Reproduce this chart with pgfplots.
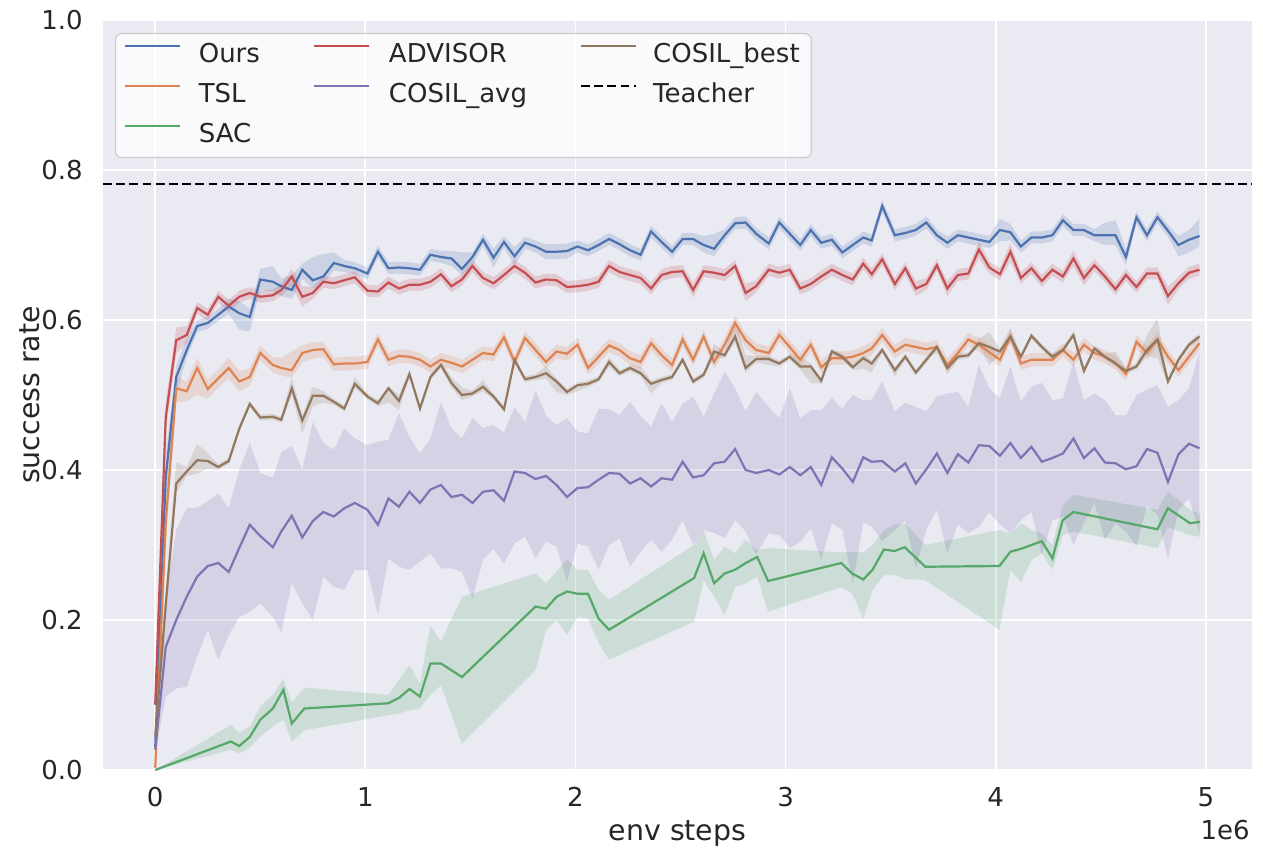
\documentclass[border=0pt]{standalone}
\usepackage{fontspec}
\setmainfont{DejaVu Sans}
\usepackage{pgfplots}
\pgfplotsset{compat=1.18}
\usepackage{pgfplotstable}
\usepgfplotslibrary{fillbetween}

\definecolor{cBlue}{HTML}{4C72B0}
\definecolor{cOrange}{HTML}{DD8452}
\definecolor{cGreen}{HTML}{55A868}
\definecolor{cRed}{HTML}{C44E52}
\definecolor{cPurple}{HTML}{8172B3}
\definecolor{cBrown}{HTML}{937860}
\definecolor{bg}{HTML}{EAEAF2}
\definecolor{txt}{HTML}{262626}

\pgfplotstableread{
x y lo hi
0 0.030 0.025 0.035
0.05 0.390 0.360 0.420
0.10 0.524 0.500 0.540
0.15 0.560 0.550 0.575
0.20 0.592 0.584 0.600
0.25 0.596 0.588 0.604
0.30 0.607 0.599 0.615
0.35 0.618 0.608 0.628
0.40 0.609 0.587 0.625
0.45 0.604 0.585 0.615
0.50 0.654 0.640 0.668
0.56 0.651 0.638 0.672
0.60 0.645 0.632 0.655
0.65 0.640 0.628 0.660
0.70 0.667 0.655 0.675
0.75 0.653 0.642 0.684
0.80 0.658 0.648 0.688
0.85 0.676 0.666 0.690
0.90 0.672 0.664 0.680
0.95 0.669 0.661 0.677
1.01 0.662 0.654 0.670
1.06 0.691 0.683 0.699
1.11 0.669 0.661 0.677
1.16 0.670 0.662 0.678
1.21 0.669 0.661 0.677
1.26 0.667 0.659 0.675
1.31 0.687 0.679 0.695
1.36 0.684 0.676 0.692
1.41 0.682 0.672 0.692
1.46 0.668 0.660 0.690
1.51 0.684 0.672 0.690
1.56 0.707 0.699 0.715
1.61 0.683 0.670 0.695
1.66 0.704 0.696 0.712
1.71 0.685 0.672 0.697
1.76 0.703 0.695 0.711
1.81 0.698 0.690 0.706
1.86 0.691 0.681 0.701
1.91 0.691 0.681 0.701
1.96 0.692 0.682 0.702
2.01 0.698 0.690 0.706
2.06 0.693 0.685 0.701
2.11 0.700 0.692 0.708
2.16 0.708 0.700 0.716
2.21 0.701 0.693 0.709
2.26 0.693 0.685 0.701
2.31 0.687 0.679 0.695
2.36 0.718 0.710 0.726
2.41 0.704 0.696 0.712
2.46 0.691 0.683 0.699
2.51 0.708 0.700 0.716
2.56 0.708 0.700 0.716
2.61 0.700 0.690 0.712
2.66 0.695 0.685 0.715
2.71 0.713 0.705 0.721
2.76 0.729 0.721 0.737
2.81 0.730 0.722 0.738
2.86 0.715 0.707 0.723
2.92 0.702 0.694 0.710
2.97 0.730 0.722 0.738
3.02 0.715 0.707 0.723
3.07 0.700 0.692 0.708
3.12 0.720 0.712 0.728
3.17 0.703 0.695 0.711
3.22 0.707 0.699 0.715
3.27 0.690 0.682 0.698
3.32 0.700 0.692 0.708
3.37 0.710 0.702 0.718
3.41 0.706 0.698 0.714
3.46 0.752 0.744 0.760
3.52 0.713 0.705 0.721
3.57 0.716 0.708 0.724
3.62 0.720 0.712 0.728
3.67 0.730 0.722 0.738
3.72 0.713 0.705 0.721
3.77 0.703 0.695 0.711
3.82 0.713 0.705 0.721
3.87 0.710 0.702 0.718
3.92 0.707 0.699 0.715
3.97 0.704 0.696 0.712
4.02 0.720 0.705 0.735
4.07 0.717 0.706 0.728
4.12 0.698 0.690 0.706
4.17 0.710 0.702 0.718
4.22 0.710 0.702 0.718
4.27 0.713 0.705 0.721
4.32 0.733 0.725 0.741
4.37 0.720 0.712 0.728
4.42 0.720 0.712 0.728
4.47 0.713 0.705 0.721
4.52 0.713 0.700 0.730
4.57 0.713 0.700 0.733
4.62 0.684 0.673 0.695
4.67 0.737 0.729 0.745
4.72 0.713 0.705 0.721
4.77 0.737 0.729 0.745
4.82 0.719 0.711 0.727
4.87 0.700 0.685 0.712
4.92 0.707 0.690 0.720
4.97 0.712 0.698 0.735
}\tOurs

\pgfplotstableread{
x y lo hi
0 0.087 0.080 0.094
0.05 0.470 0.450 0.490
0.10 0.573 0.555 0.590
0.15 0.580 0.570 0.592
0.20 0.616 0.608 0.624
0.25 0.607 0.599 0.615
0.30 0.631 0.623 0.639
0.35 0.619 0.611 0.627
0.40 0.631 0.623 0.639
0.45 0.636 0.628 0.644
0.50 0.631 0.623 0.639
0.56 0.633 0.625 0.641
0.60 0.640 0.632 0.648
0.65 0.658 0.645 0.668
0.70 0.631 0.618 0.645
0.75 0.636 0.628 0.644
0.80 0.651 0.643 0.659
0.85 0.649 0.641 0.657
0.90 0.653 0.645 0.661
0.95 0.657 0.649 0.665
1.01 0.639 0.631 0.647
1.06 0.638 0.630 0.646
1.11 0.650 0.642 0.658
1.16 0.642 0.634 0.650
1.21 0.647 0.639 0.655
1.26 0.647 0.639 0.655
1.31 0.651 0.643 0.659
1.36 0.661 0.653 0.669
1.41 0.645 0.637 0.653
1.46 0.654 0.646 0.662
1.51 0.672 0.664 0.680
1.56 0.656 0.648 0.664
1.61 0.649 0.641 0.657
1.66 0.660 0.652 0.668
1.71 0.672 0.664 0.680
1.76 0.663 0.655 0.671
1.81 0.650 0.642 0.658
1.86 0.654 0.646 0.662
1.91 0.653 0.645 0.661
1.96 0.644 0.636 0.652
2.01 0.645 0.637 0.653
2.06 0.647 0.639 0.655
2.11 0.651 0.643 0.659
2.16 0.672 0.664 0.680
2.21 0.664 0.656 0.672
2.26 0.660 0.652 0.668
2.31 0.656 0.648 0.664
2.36 0.642 0.634 0.650
2.41 0.660 0.652 0.668
2.46 0.664 0.656 0.672
2.51 0.665 0.657 0.673
2.56 0.640 0.630 0.650
2.61 0.665 0.657 0.673
2.66 0.663 0.655 0.671
2.71 0.660 0.652 0.668
2.76 0.672 0.664 0.680
2.81 0.636 0.625 0.648
2.86 0.645 0.637 0.653
2.92 0.667 0.659 0.675
2.97 0.663 0.655 0.671
3.02 0.667 0.659 0.675
3.07 0.642 0.634 0.650
3.12 0.648 0.640 0.656
3.17 0.658 0.650 0.666
3.22 0.667 0.659 0.675
3.27 0.660 0.652 0.668
3.32 0.654 0.646 0.662
3.37 0.675 0.667 0.683
3.41 0.661 0.653 0.669
3.46 0.681 0.673 0.689
3.52 0.648 0.640 0.656
3.57 0.669 0.661 0.677
3.62 0.642 0.632 0.652
3.67 0.648 0.640 0.656
3.72 0.673 0.665 0.681
3.77 0.642 0.632 0.652
3.82 0.660 0.652 0.668
3.87 0.662 0.654 0.670
3.92 0.694 0.682 0.705
3.97 0.670 0.662 0.678
4.02 0.661 0.653 0.669
4.07 0.691 0.678 0.703
4.12 0.656 0.648 0.664
4.17 0.669 0.661 0.677
4.22 0.652 0.644 0.660
4.27 0.667 0.659 0.675
4.32 0.658 0.650 0.666
4.37 0.682 0.672 0.692
4.42 0.656 0.646 0.666
4.47 0.673 0.665 0.681
4.52 0.658 0.650 0.666
4.57 0.641 0.633 0.649
4.62 0.660 0.652 0.668
4.67 0.644 0.636 0.652
4.72 0.662 0.654 0.670
4.77 0.662 0.654 0.670
4.82 0.632 0.620 0.645
4.87 0.649 0.641 0.657
4.92 0.663 0.655 0.671
4.97 0.667 0.659 0.675
}\tAdvisor

\pgfplotstableread{
x y lo hi
0 0.003 0.000 0.006
0.05 0.330 0.300 0.360
0.10 0.509 0.490 0.525
0.15 0.505 0.492 0.518
0.20 0.536 0.500 0.550
0.25 0.508 0.495 0.520
0.30 0.522 0.510 0.534
0.35 0.536 0.522 0.550
0.40 0.518 0.505 0.532
0.45 0.524 0.512 0.536
0.50 0.556 0.546 0.566
0.56 0.540 0.530 0.550
0.60 0.536 0.526 0.550
0.65 0.533 0.523 0.558
0.70 0.556 0.544 0.566
0.75 0.560 0.548 0.570
0.80 0.561 0.551 0.571
0.85 0.541 0.532 0.550
0.90 0.542 0.533 0.551
0.95 0.542 0.533 0.551
1.01 0.544 0.535 0.553
1.06 0.574 0.565 0.583
1.11 0.547 0.538 0.556
1.16 0.552 0.543 0.561
1.21 0.551 0.542 0.560
1.26 0.547 0.538 0.556
1.31 0.538 0.529 0.547
1.36 0.547 0.538 0.556
1.41 0.543 0.534 0.552
1.46 0.538 0.529 0.547
1.51 0.547 0.538 0.556
1.56 0.556 0.547 0.565
1.61 0.554 0.545 0.563
1.66 0.577 0.568 0.586
1.71 0.544 0.535 0.553
1.76 0.576 0.567 0.585
1.81 0.560 0.551 0.569
1.86 0.544 0.535 0.553
1.91 0.558 0.549 0.567
1.96 0.555 0.546 0.564
2.01 0.567 0.558 0.576
2.06 0.536 0.527 0.545
2.11 0.551 0.542 0.560
2.16 0.566 0.557 0.575
2.21 0.560 0.551 0.569
2.26 0.549 0.540 0.558
2.31 0.544 0.535 0.553
2.36 0.569 0.560 0.578
2.41 0.553 0.544 0.562
2.46 0.540 0.531 0.549
2.51 0.574 0.565 0.583
2.56 0.547 0.538 0.556
2.61 0.578 0.569 0.587
2.66 0.544 0.535 0.553
2.71 0.567 0.558 0.576
2.76 0.596 0.585 0.606
2.81 0.573 0.564 0.582
2.86 0.560 0.551 0.569
2.92 0.556 0.547 0.565
2.97 0.580 0.571 0.589
3.02 0.564 0.555 0.573
3.07 0.547 0.538 0.556
3.12 0.567 0.558 0.576
3.17 0.537 0.528 0.546
3.22 0.549 0.540 0.558
3.27 0.549 0.540 0.558
3.32 0.551 0.542 0.560
3.37 0.556 0.547 0.565
3.41 0.562 0.553 0.571
3.46 0.580 0.571 0.589
3.52 0.558 0.549 0.567
3.57 0.567 0.558 0.576
3.62 0.564 0.555 0.573
3.67 0.561 0.552 0.570
3.72 0.564 0.555 0.573
3.77 0.540 0.531 0.549
3.82 0.556 0.547 0.565
3.87 0.574 0.565 0.583
3.92 0.567 0.558 0.576
3.97 0.557 0.548 0.566
4.02 0.547 0.538 0.556
4.07 0.578 0.569 0.587
4.12 0.542 0.533 0.551
4.17 0.547 0.538 0.556
4.22 0.547 0.538 0.556
4.27 0.547 0.538 0.556
4.32 0.560 0.551 0.569
4.37 0.547 0.538 0.556
4.42 0.567 0.558 0.576
4.47 0.556 0.547 0.565
4.52 0.551 0.542 0.560
4.57 0.543 0.534 0.552
4.62 0.528 0.519 0.537
4.67 0.571 0.562 0.580
4.72 0.556 0.547 0.565
4.77 0.574 0.565 0.583
4.82 0.551 0.542 0.560
4.87 0.533 0.524 0.542
4.92 0.551 0.542 0.560
4.97 0.569 0.560 0.578
}\tTSL

\pgfplotstableread{
x y lo hi
0 0.044 0.040 0.048
0.05 0.220 0.200 0.240
0.10 0.382 0.370 0.410
0.15 0.398 0.392 0.404
0.20 0.413 0.395 0.435
0.25 0.412 0.402 0.422
0.30 0.404 0.400 0.408
0.35 0.412 0.408 0.416
0.40 0.455 0.451 0.459
0.45 0.488 0.484 0.492
0.50 0.470 0.466 0.474
0.56 0.471 0.467 0.475
0.60 0.467 0.463 0.471
0.65 0.509 0.500 0.524
0.70 0.466 0.449 0.472
0.75 0.499 0.485 0.511
0.80 0.499 0.490 0.505
0.85 0.491 0.487 0.495
0.90 0.482 0.478 0.486
0.95 0.515 0.510 0.524
1.01 0.498 0.494 0.502
1.06 0.489 0.485 0.493
1.11 0.509 0.490 0.512
1.16 0.492 0.480 0.500
1.21 0.528 0.524 0.532
1.26 0.482 0.478 0.486
1.31 0.524 0.520 0.528
1.36 0.540 0.536 0.544
1.41 0.516 0.510 0.524
1.46 0.500 0.493 0.510
1.51 0.502 0.498 0.506
1.56 0.511 0.505 0.520
1.61 0.498 0.494 0.502
1.66 0.481 0.477 0.485
1.71 0.547 0.543 0.551
1.76 0.521 0.517 0.525
1.81 0.524 0.520 0.528
1.86 0.529 0.522 0.538
1.91 0.518 0.504 0.522
1.96 0.504 0.500 0.508
2.01 0.513 0.505 0.517
2.06 0.515 0.511 0.519
2.11 0.521 0.517 0.525
2.16 0.544 0.538 0.550
2.21 0.529 0.525 0.533
2.26 0.536 0.532 0.540
2.31 0.529 0.525 0.538
2.36 0.515 0.502 0.519
2.41 0.520 0.516 0.524
2.46 0.524 0.520 0.528
2.51 0.547 0.543 0.551
2.56 0.518 0.514 0.522
2.61 0.527 0.523 0.531
2.66 0.558 0.550 0.568
2.71 0.553 0.549 0.557
2.76 0.578 0.570 0.602
2.81 0.536 0.530 0.553
2.86 0.548 0.544 0.552
2.92 0.548 0.540 0.552
2.97 0.542 0.538 0.546
3.02 0.551 0.547 0.555
3.07 0.538 0.534 0.551
3.12 0.538 0.516 0.542
3.17 0.519 0.515 0.523
3.22 0.558 0.554 0.562
3.27 0.551 0.547 0.555
3.32 0.537 0.533 0.541
3.37 0.549 0.535 0.553
3.41 0.542 0.530 0.546
3.46 0.560 0.556 0.564
3.52 0.533 0.525 0.537
3.57 0.551 0.547 0.555
3.62 0.530 0.526 0.534
3.67 0.547 0.543 0.551
3.72 0.564 0.560 0.568
3.77 0.536 0.528 0.540
3.82 0.551 0.547 0.555
3.87 0.553 0.549 0.557
3.92 0.569 0.565 0.575
3.97 0.564 0.540 0.584
4.02 0.558 0.554 0.562
4.07 0.578 0.570 0.590
4.12 0.551 0.547 0.555
4.17 0.579 0.575 0.583
4.22 0.564 0.560 0.568
4.27 0.551 0.547 0.555
4.32 0.560 0.556 0.564
4.37 0.580 0.576 0.584
4.42 0.532 0.528 0.536
4.47 0.562 0.558 0.566
4.52 0.551 0.547 0.555
4.57 0.542 0.538 0.558
4.62 0.532 0.528 0.536
4.67 0.538 0.534 0.542
4.72 0.560 0.552 0.580
4.77 0.574 0.549 0.602
4.82 0.518 0.514 0.522
4.87 0.547 0.543 0.551
4.92 0.567 0.563 0.571
4.97 0.578 0.574 0.582
}\tBest

\pgfplotstableread{
x y lo hi
0 0.027 0.020 0.035
0.05 0.164 0.098 0.230
0.10 0.200 0.109 0.320
0.15 0.231 0.111 0.349
0.20 0.258 0.151 0.350
0.25 0.272 0.187 0.358
0.30 0.276 0.147 0.369
0.35 0.264 0.180 0.349
0.40 0.296 0.204 0.400
0.45 0.327 0.211 0.436
0.50 0.312 0.222 0.396
0.56 0.297 0.204 0.390
0.60 0.318 0.184 0.424
0.65 0.339 0.249 0.432
0.70 0.310 0.222 0.400
0.75 0.332 0.200 0.464
0.80 0.344 0.258 0.436
0.85 0.338 0.244 0.427
0.90 0.349 0.240 0.456
0.95 0.356 0.267 0.442
1.01 0.347 0.267 0.433
1.06 0.327 0.207 0.438
1.11 0.362 0.282 0.440
1.16 0.351 0.271 0.476
1.21 0.371 0.267 0.444
1.26 0.356 0.278 0.422
1.31 0.374 0.289 0.442
1.36 0.380 0.269 0.491
1.41 0.364 0.269 0.456
1.46 0.367 0.264 0.442
1.51 0.356 0.229 0.469
1.56 0.371 0.280 0.456
1.61 0.373 0.295 0.460
1.66 0.359 0.275 0.450
1.71 0.398 0.302 0.484
1.76 0.396 0.311 0.464
1.81 0.388 0.282 0.506
1.86 0.392 0.304 0.473
1.91 0.380 0.298 0.460
1.96 0.364 0.251 0.469
2.01 0.376 0.302 0.451
2.06 0.377 0.298 0.449
2.11 0.387 0.267 0.482
2.16 0.396 0.300 0.481
2.21 0.395 0.309 0.473
2.26 0.382 0.271 0.491
2.31 0.389 0.291 0.472
2.36 0.378 0.307 0.458
2.41 0.389 0.291 0.489
2.46 0.387 0.307 0.464
2.51 0.411 0.333 0.488
2.56 0.390 0.300 0.498
2.61 0.393 0.320 0.471
2.66 0.409 0.316 0.502
2.71 0.411 0.309 0.531
2.76 0.428 0.333 0.509
2.81 0.400 0.318 0.478
2.86 0.396 0.287 0.504
2.92 0.400 0.316 0.484
2.97 0.394 0.313 0.469
3.02 0.404 0.296 0.509
3.07 0.393 0.304 0.469
3.12 0.404 0.322 0.480
3.17 0.380 0.280 0.480
3.22 0.417 0.329 0.496
3.27 0.402 0.320 0.482
3.32 0.384 0.249 0.500
3.37 0.417 0.330 0.493
3.41 0.411 0.325 0.494
3.46 0.412 0.305 0.518
3.52 0.398 0.320 0.478
3.57 0.409 0.333 0.490
3.62 0.382 0.269 0.484
3.67 0.401 0.320 0.478
3.72 0.422 0.347 0.498
3.77 0.396 0.289 0.502
3.82 0.421 0.327 0.504
3.87 0.410 0.316 0.484
3.92 0.433 0.324 0.540
3.97 0.432 0.344 0.509
4.02 0.419 0.327 0.496
4.07 0.436 0.316 0.538
4.12 0.416 0.333 0.491
4.17 0.431 0.344 0.511
4.22 0.411 0.287 0.516
4.27 0.416 0.333 0.493
4.32 0.422 0.338 0.496
4.37 0.442 0.300 0.544
4.42 0.416 0.329 0.493
4.47 0.429 0.356 0.502
4.52 0.410 0.307 0.493
4.57 0.409 0.329 0.473
4.62 0.401 0.318 0.473
4.67 0.405 0.298 0.500
4.72 0.428 0.353 0.507
4.77 0.423 0.340 0.513
4.82 0.384 0.282 0.484
4.87 0.421 0.347 0.493
4.92 0.435 0.362 0.509
4.97 0.429 0.316 0.558
}\tAvg

\pgfplotstableread{
x y lo hi
0 0.000 0.000 0.000
0.36 0.038 0.027 0.060
0.40 0.032 0.022 0.050
0.45 0.044 0.030 0.058
0.50 0.067 0.045 0.085
0.56 0.082 0.058 0.100
0.61 0.107 0.067 0.122
0.65 0.062 0.038 0.090
0.71 0.082 0.053 0.110
1.11 0.089 0.073 0.100
1.16 0.096 0.075 0.120
1.21 0.108 0.080 0.140
1.26 0.098 0.082 0.115
1.31 0.142 0.100 0.193
1.36 0.142 0.113 0.171
1.46 0.124 0.035 0.231
1.81 0.218 0.133 0.262
1.86 0.215 0.187 0.249
1.91 0.231 0.200 0.265
1.96 0.238 0.180 0.280
2.01 0.235 0.204 0.267
2.06 0.235 0.202 0.267
2.11 0.202 0.170 0.240
2.16 0.187 0.147 0.227
2.565 0.256 0.198 0.300
2.61 0.289 0.253 0.320
2.66 0.249 0.231 0.280
2.71 0.262 0.207 0.298
2.76 0.267 0.244 0.289
2.81 0.276 0.249 0.307
2.865 0.284 0.258 0.293
2.917 0.252 0.211 0.296
3.265 0.276 0.244 0.290
3.317 0.262 0.235 0.291
3.37 0.254 0.202 0.290
3.414 0.267 0.240 0.300
3.468 0.294 0.260 0.320
3.519 0.292 0.260 0.327
3.567 0.297 0.255 0.329
3.665 0.271 0.253 0.300
4.018 0.272 0.187 0.320
4.07 0.291 0.267 0.315
4.121 0.295 0.251 0.329
4.17 0.300 0.280 0.320
4.22 0.305 0.289 0.315
4.27 0.282 0.267 0.300
4.319 0.333 0.313 0.353
4.37 0.344 0.318 0.367
4.77 0.321 0.296 0.347
4.82 0.349 0.324 0.371
4.925 0.329 0.313 0.347
4.973 0.331 0.311 0.342
}\tSAC

\newcommand{\series}[2]{%
  \addplot[draw=none, forget plot, name path=#1hi] table[x=x,y=hi]{#2};
  \addplot[draw=none, forget plot, name path=#1lo] table[x=x,y=lo]{#2};
}

\begin{document}
\begin{tikzpicture}
\begin{axis}[
  name=ax,
  scale only axis, width=574.5pt, height=375pt,
  xmin=-0.2485, xmax=5.22, ymin=0, ymax=1,
  axis background/.style={fill=bg},
  axis line style={draw=none},
  major tick length=0pt, tick style={draw=none},
  grid=major, grid style={white, line width=0.9pt},
  xtick={0,1,2,3,4,5}, ytick={0,0.2,0.4,0.6,0.8,1.0},
  /pgf/number format/assume math mode=true,
  tick label style={font=\fontsize{13}{15.6}\selectfont, text=txt, inner sep=0pt},
  xticklabel style={anchor=north, yshift=-8.5pt},
  yticklabel style={anchor=east, xshift=-10pt, /pgf/number format/.cd, fixed, fixed zerofill, precision=1},
  label style={font=\fontsize{14.2}{17}\selectfont, text=txt, inner sep=0pt},
  xlabel={env steps},
  xlabel style={at={(axis description cs:0.5,0)}, anchor=north, yshift=-25pt},
  ylabel={success rate},
  ylabel style={at={(axis description cs:-0.0635,0.5)}, anchor=center},
  legend columns=3,
  legend cell align=left,
  legend image code/.code={\draw[#1] (0pt,4.75pt) -- (27.5pt,4.75pt);},
  legend style={at={(axis description cs:0.01044,0.98267)}, anchor=north west,
    font=\fontsize{13}{15.6}\selectfont, text=txt,
    fill=white, fill opacity=0.8, text opacity=1, draw opacity=1,
    draw={rgb,255:red,204;green,204;blue,204}, line width=0.6pt, rounded corners=3pt,
    inner xsep=4pt, inner ysep=4.75pt, column sep=0pt, row sep=7.5pt,
    nodes={inner sep=0pt, text height=9.5pt, text depth=3pt}},
]
\addlegendimage{cBlue, line width=1.1pt}
\addlegendentry{\makebox[66pt][l]{\hspace{9pt}Ours}}
\addlegendimage{cRed, line width=1.1pt}
\addlegendentry{\makebox[105pt][l]{\hspace{9.5pt}ADVISOR}}
\addlegendimage{cBrown, line width=1.1pt}
\addlegendentry{\makebox[83pt][l]{\hspace{8pt}COSIL\_best}}
\addlegendimage{cOrange, line width=1.1pt}
\addlegendentry{\makebox[66pt][l]{\hspace{9pt}TSL}}
\addlegendimage{cPurple, line width=1.1pt}
\addlegendentry{\makebox[105pt][l]{\hspace{9.5pt}COSIL\_avg}}
\addlegendimage{black, line width=1.1pt, dash pattern=on 4.4pt off 2.2pt}
\addlegendentry{\makebox[83pt][l]{\hspace{8pt}Teacher}}
\addlegendimage{cGreen, line width=1.1pt}
\addlegendentry{\makebox[66pt][l]{\hspace{9pt}SAC}}

% Ours
\series{ours}{\tOurs}
\addplot[cBlue, line width=1.1pt, forget plot] table[x=x,y=y]{\tOurs};
\addplot[cBlue, fill opacity=0.2, draw=none, forget plot] fill between[of=ourshi and ourslo];
% TSL
\series{tsl}{\tTSL}
\addplot[cOrange, line width=1.1pt, forget plot] table[x=x,y=y]{\tTSL};
\addplot[cOrange, fill opacity=0.2, draw=none, forget plot] fill between[of=tslhi and tsllo];
% SAC
\series{sac}{\tSAC}
\addplot[cGreen, line width=1.1pt, forget plot] table[x=x,y=y]{\tSAC};
\addplot[cGreen, fill opacity=0.2, draw=none, forget plot] fill between[of=sachi and saclo];
% ADVISOR
\series{adv}{\tAdvisor}
\addplot[cRed, line width=1.1pt, forget plot] table[x=x,y=y]{\tAdvisor};
\addplot[cRed, fill opacity=0.2, draw=none, forget plot] fill between[of=advhi and advlo];
% COSIL_avg
\series{avg}{\tAvg}
\addplot[cPurple, line width=1.1pt, forget plot] table[x=x,y=y]{\tAvg};
\addplot[cPurple, fill opacity=0.2, draw=none, forget plot] fill between[of=avghi and avglo];
% COSIL_best
\series{best}{\tBest}
\addplot[cBrown, line width=1.1pt, forget plot] table[x=x,y=y]{\tBest};
\addplot[cBrown, fill opacity=0.2, draw=none, forget plot] fill between[of=besthi and bestlo];
% Teacher
\addplot[black, line width=1.1pt, dash pattern=on 4.4pt off 2.2pt, forget plot] coordinates {(-0.2485,0.781) (5.22,0.781)};
\end{axis}
\node[anchor=north east, inner sep=0pt, font=\fontsize{13}{15.6}\selectfont, text=txt]
  at ([xshift=-1pt,yshift=-25pt]ax.south east) {1e6};
\path (-51.5pt,-41pt) rectangle (580pt,385pt);
\end{tikzpicture}
\end{document}
